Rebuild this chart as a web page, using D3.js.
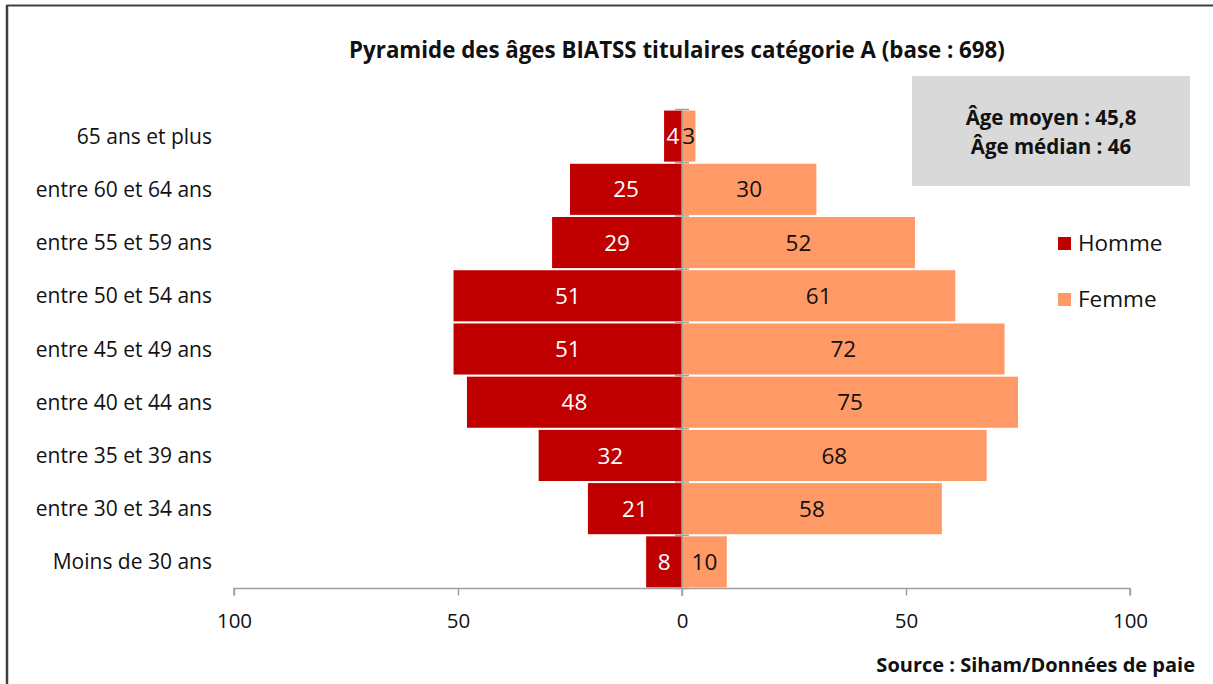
<!DOCTYPE html>
<html><head><meta charset="utf-8">
<script src="https://cdn.jsdelivr.net/npm/d3@7"></script>
<style>body{margin:0;background:#fff;}svg{display:block;font-family:"Open Sans",sans-serif;}</style>
</head><body><svg id="c" width="1213" height="684"></svg>
<script>
const categories = ["65 ans et plus","entre 60 et 64 ans","entre 55 et 59 ans","entre 50 et 54 ans","entre 45 et 49 ans","entre 40 et 44 ans","entre 35 et 39 ans","entre 30 et 34 ans","Moins de 30 ans"];
const homme = [4,25,29,51,51,48,32,21,8];
const femme = [3,30,52,61,72,75,68,58,10];
const xTicks = [-100,-50,0,50,100];
const seriesNames = ["Homme","Femme"];
const colors = {Homme:"#c00000", Femme:"#ff9966"};

const svg = d3.select("#c");
// border (top + left)
svg.append("line").attr("x1",6.5).attr("x2",1213).attr("y1",5.5).attr("y2",5.5).attr("stroke","#404040").attr("stroke-width",2);
svg.append("line").attr("x1",7).attr("x2",7).attr("y1",5).attr("y2",684).attr("stroke","#404040").attr("stroke-width",2.5);

const x = d3.scaleLinear().domain([-100,100]).range([234,1130]);
const y = d3.scaleBand().domain(categories).range([109.5,588.5]).paddingInner(0.04).paddingOuter(0.02);
const yb = d3.scaleBand().domain(categories).range([109.5,588.5]);

svg.append("text").attr("x",677).attr("y",58).attr("text-anchor","middle")
  .attr("font-weight","bold").attr("font-size",22.3).attr("fill","#111")
  .text("Pyramide des âges BIATSS titulaires catégorie A (base : 698)");

const g = svg.append("g");
g.selectAll("rect.h").data(categories).join("rect").attr("class","h")
  .attr("x",(d,i)=>x(-homme[i])).attr("width",(d,i)=>x(0)-x(-homme[i]))
  .attr("y",d=>y(d)).attr("height",y.bandwidth()).attr("fill",colors.Homme);
g.selectAll("rect.f").data(categories).join("rect").attr("class","f")
  .attr("x",x(0)).attr("width",(d,i)=>x(femme[i])-x(0))
  .attr("y",d=>y(d)).attr("height",y.bandwidth()).attr("fill",colors.Femme);

// x axis
const xa = svg.append("g").attr("transform","translate(0,588.5)")
  .call(d3.axisBottom(x).tickValues(xTicks).tickSize(7).tickFormat(d=>Math.abs(d)));
xa.select(".domain").attr("stroke","#a0a0a0").attr("stroke-width",1.5).attr("d","M234,7V0H1130V7");
xa.selectAll(".tick line").attr("stroke","#a0a0a0").attr("stroke-width",1.5);
xa.selectAll(".tick text").attr("font-size",20.5).attr("fill","#111").attr("y",39).attr("dy",0).attr("font-family","Open Sans");

// vertical axis at 0
const ya = svg.append("g").attr("transform",`translate(${x(0)},0)`)
  .call(d3.axisLeft(yb).tickSize(0).tickFormat(""));
ya.select(".domain").attr("stroke","#a0a0a0").attr("stroke-width",1.5).attr("d","M0,109.5V596");
const bounds = categories.map(c=>yb(c)).concat([588.5]);
ya.selectAll("line.tk").data(bounds).join("line").attr("class","tk")
  .attr("x1",-7).attr("x2",7).attr("y1",d=>d).attr("y2",d=>d).attr("stroke","#a0a0a0").attr("stroke-width",1.5);

// category labels
svg.selectAll("text.cat").data(categories).join("text").attr("class","cat")
  .attr("x",212).attr("y",d=>yb(d)+yb.bandwidth()/2).attr("dy","0.36em")
  .attr("text-anchor","end").attr("font-size",21).attr("fill","#111").text(d=>d);

// value labels
svg.selectAll("text.hv").data(categories).join("text").attr("class","hv")
  .attr("x",(d,i)=>(x(-homme[i])+x(0))/2).attr("y",d=>y(d)+y.bandwidth()/2).attr("dy","0.36em")
  .attr("text-anchor","middle").attr("font-size",22.5).attr("fill","#fff").text((d,i)=>homme[i]);
svg.selectAll("text.fv").data(categories).join("text").attr("class","fv")
  .attr("x",(d,i)=>(x(femme[i])+x(0))/2).attr("y",d=>y(d)+y.bandwidth()/2).attr("dy","0.36em")
  .attr("text-anchor","middle").attr("font-size",22.5).attr("fill","#111").text((d,i)=>femme[i]);

// info box
svg.append("rect").attr("x",912).attr("y",76).attr("width",278).attr("height",110).attr("fill","#d9d9d9");
svg.append("text").attr("x",1051).attr("y",125).attr("text-anchor","middle").attr("font-weight","bold").attr("font-size",20.5).attr("fill","#111").text("Âge moyen : 45,8");
svg.append("text").attr("x",1051).attr("y",154).attr("text-anchor","middle").attr("font-weight","bold").attr("font-size",20.5).attr("fill","#111").text("Âge médian : 46");

// legend
const lg = svg.selectAll("g.lg").data(seriesNames).join("g").attr("class","lg")
  .attr("transform",(d,i)=>`translate(1058,${243+i*56})`);
lg.append("rect").attr("x",0).attr("y",-6).attr("width",13).attr("height",13).attr("fill",d=>colors[d]);
lg.append("text").attr("x",20).attr("y",0).attr("dy","0.36em").attr("font-size",22.5).attr("fill","#111").text(d=>d);

// source
svg.append("text").attr("x",1195).attr("y",672).attr("text-anchor","end").attr("font-weight","bold").attr("font-size",20).attr("fill","#111").text("Source : Siham/Données de paie");
</script></body></html>
